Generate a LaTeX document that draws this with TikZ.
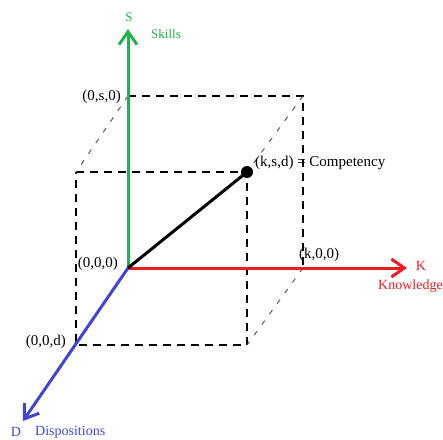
\documentclass[tikz,border=0pt]{standalone}
\usepackage{fontspec}
\setmainfont{Liberation Serif}
\usetikzlibrary{arrows.meta}
\definecolor{skillgreen}{RGB}{34,177,76}
\definecolor{knowred}{RGB}{237,28,36}
\definecolor{dispblue}{RGB}{63,72,204}

\begin{document}
\begin{tikzpicture}[x=1pt,y=-1pt,
  axis/.style={line width=3pt,-{Straight Barb[length=13pt,width=18pt]}},
  boxedge/.style={line width=1.2pt, dash pattern=on 8pt off 6pt},
  depthedge/.style={gray!60!black, line width=0.9pt, dash pattern=on 5pt off 8pt},
  lab/.style={font=\fontsize{15}{18}\selectfont, inner sep=0pt}]
  \useasboundingbox (0,0) rectangle (443,439);

  % Corners of the box
  \coordinate (O)   at (128,268);
  \coordinate (S0)  at (128,96);
  \coordinate (KS0) at (303,96);
  \coordinate (K0)  at (303,268);
  \coordinate (SD)  at (76,172);
  \coordinate (KSD) at (247,172);
  \coordinate (D0)  at (76,345);
  \coordinate (KD)  at (247,345);
  % Axis ends
  \coordinate (Stip) at (128,29);
  \coordinate (Ktip) at (407,268);
  \coordinate (Dtip) at (23,421);

  % Dashed box
  \draw[boxedge] (S0) -- (KS0) -- (K0);
  \draw[boxedge] (SD) -- (KSD) -- (KD) -- (D0) -- cycle;
  \draw[depthedge] (S0) -- (SD);
  \draw[depthedge] (KS0) -- (KSD);
  \draw[depthedge] (K0) -- (KD);

  % Axes
  \draw[axis, skillgreen] (O) -- (Stip);
  \draw[axis, knowred] (O) -- (Ktip);
  \draw[axis, dispblue] (O) -- (Dtip);

  % Competency vector
  \draw[line width=3pt] (O) -- (KSD);
  \fill (KSD) circle (6pt);

  % Labels
  \node[lab, text=skillgreen, font=\fontsize{13}{16}\selectfont] (sname) at (129,17) {S};
  \node[lab, text=skillgreen, font=\fontsize{13}{16}\selectfont, anchor=west] (slong) at (151,34) {Skills};
  \node[lab, text=knowred, font=\fontsize{14}{17}\selectfont] (kname) at (421,266) {K};
  \node[lab, text=knowred, font=\fontsize{14}{17}\selectfont, anchor=west] (klong) at (378,286) {Knowledge};
  \node[lab, text=dispblue, font=\fontsize{14}{17}\selectfont] (dname) at (16,432) {D};
  \node[lab, text=dispblue, font=\fontsize{14}{17}\selectfont, anchor=west] (dlong) at (35,432) {Dispositions};

  \node[lab, anchor=east] (ls0) at (121,97) {(0,s,0)};
  \node[lab, anchor=east] (lorig) at (118,264) {(0,0,0)};
  \node[lab, anchor=east] (ld0) at (66,342) {(0,0,d)};
  \node[lab, anchor=west] (lk0) at (299,255) {(k,0,0)};
  \node[lab, anchor=west] (lksd) at (255,163) {(k,s,d) = Competency};
\end{tikzpicture}
\end{document}
